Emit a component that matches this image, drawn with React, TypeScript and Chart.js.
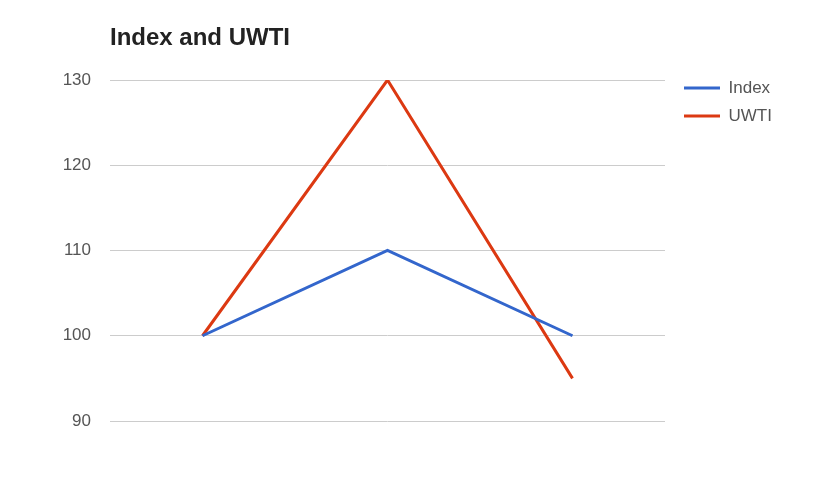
import React, { useEffect, useRef } from "react";
import { Chart, registerables } from "chart.js";

Chart.register(...registerables);

const categories = ["1", "2", "3"];
const indexValues = [100, 110, 100];
const uwtiValues = [100, 130, 95];
const yMin = 90;
const yMax = 130;
const yStep = 10;
const titleText = "Index and UWTI";

const legendShift = {
  id: "legendShift",
  afterLayout(chart: any) {
    const lg = chart.legend;
    if (lg) {
      lg.left = chart.chartArea.right + 8;
      lg.right = chart.width;
      lg.width = lg.right - lg.left;
      lg.top = 68.5;
    }
  },
};

export default function App() {
  const ref = useRef<HTMLCanvasElement>(null);
  useEffect(() => {
    if (!ref.current) return;
    const chart = new Chart(ref.current, {
      type: "line",
      data: {
        labels: categories,
        datasets: [
          {
            label: "Index",
            data: indexValues,
            borderColor: "#3366cc",
            backgroundColor: "#3366cc",
            borderWidth: 3,
            pointRadius: 0,
            tension: 0,
          },
          {
            label: "UWTI",
            data: uwtiValues,
            borderColor: "#dc3912",
            backgroundColor: "#dc3912",
            borderWidth: 3,
            pointRadius: 0,
            tension: 0,
          },
        ],
      },
      options: {
        animation: false,
        responsive: true,
        maintainAspectRatio: false,
        layout: { padding: { left: 10, right: 52, top: 10, bottom: 63 } },
        scales: {
          x: { display: false, offset: true },
          y: {
            min: yMin,
            max: yMax,
            ticks: {
              stepSize: yStep,
              padding: 19,
              color: "#555",
              font: { family: "'Liberation Sans', Arial, sans-serif", size: 17 },
            },
            grid: { color: "#cccccc", lineWidth: 1, drawTicks: false },
            border: { display: false },
            afterFit(scale: any) {
              scale.width = 100;
            },
          },
        },
        plugins: {
          title: {
            display: true,
            text: titleText,
            align: "start",
            fullSize: false,
            color: "#222",
            font: { family: "'Liberation Sans', Arial, sans-serif", size: 24, weight: "bold", lineHeight: 1.2 },
            padding: { top: 14, bottom: 27.2 },
          },
          legend: {
            position: "right",
            align: "start",
            maxWidth: 100,
            labels: {
              boxWidth: 36,
              boxHeight: 0,
              padding: 11,
              color: "#555",
              font: { family: "'Liberation Sans', Arial, sans-serif", size: 17 },
            },
          },
          tooltip: { enabled: false },
        },
      },
      plugins: [legendShift],
    });
    return () => chart.destroy();
  }, []);
  return (
    <div style={{ position: "fixed", left: 0, top: 0, width: 817, height: 484, background: "#fff" }}>
      <canvas ref={ref} />
    </div>
  );
}
